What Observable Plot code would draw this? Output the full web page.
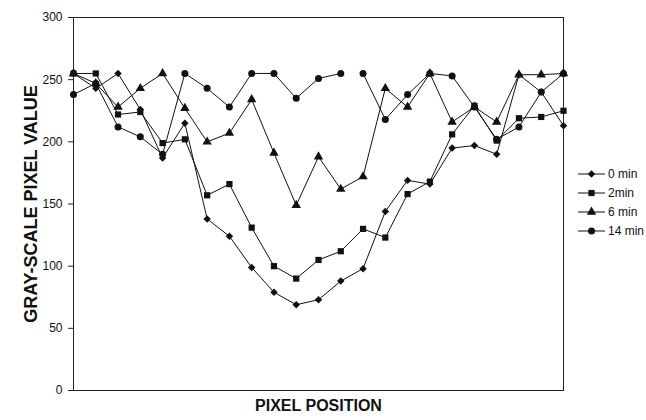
<!DOCTYPE html>
<html>
<head>
<meta charset="utf-8">
<script src="https://cdn.jsdelivr.net/npm/d3@7"></script>
<script src="https://cdn.jsdelivr.net/npm/@observablehq/plot@0.6"></script>
<style>
  html, body { margin: 0; padding: 0; background: #fff; }
  #wrap { position: relative; width: 646px; height: 420px; font-family: Arial, "Liberation Sans", sans-serif; }
  #legend { position: absolute; left: 0; top: 0; }
  .lg-row { position: absolute; display: flex; align-items: center; height: 16px; font-size: 12px; color: #111; white-space: nowrap; }
  .lg-row svg { display: block; }
  .lg-row span { margin-left: 2px; }
</style>
</head>
<body>
<div id="wrap"></div>
<script>
// ---- data ----
const positions = [1, 2, 3, 4, 5, 6, 7, 8, 9, 10, 11, 12, 13, 14, 15, 16, 17, 18, 19, 20, 21, 22, 23];
const seriesNames = ["0 min", "2min", "6 min", "14 min"];
const min0  = [255, 243, 255, 226, 187, 215, 138, 124, 99, 79, 69, 73, 88, 98, 144, 169, 166, 195, 197, 190, 254, 240, 213];
const min2  = [255, 255, 222, 224, 199, 202, 157, 166, 131, 100, 90, 105, 112, 130, 123, 158, 168, 206, 229, 201, 219, 220, 225];
const min6  = [255, 247, 228, 243, 255, 227, 200, 207, 234, 191, 149, 188, 162, 172, 243, 228, 255, 216, 228, 216, 254, 254, 255];
const min14 = [238, 247, 212, 204, 190, 255, 243, 228, 255, 255, 235, 251, 255, 255, 218, 238, 255, 253, 228, 202, 212, 240, 255];
// the 14 min line is not drawn between positions 13 and 14 in the original
const lineGaps = [{ series: "14 min", after: 13 }];
const yTicks = [0, 50, 100, 150, 200, 250, 300];
const xLabel = "PIXEL POSITION";
const yLabel = "GRAY-SCALE PIXEL VALUE";

// ---- symbols ----
const diamondSym = {
  draw(ctx, size) {
    const h = Math.sqrt(size / 2) * 0.85;
    ctx.moveTo(0, -h); ctx.lineTo(h, 0); ctx.lineTo(0, h); ctx.lineTo(-h, 0); ctx.closePath();
  }
};
const symbols = [diamondSym, d3.symbolSquare, d3.symbolTriangle, d3.symbolCircle];

const valuesBySeries = [min0, min2, min6, min14];
const data = seriesNames.flatMap((name, s) =>
  valuesBySeries[s].map((v, i) => {
    const gapCount = lineGaps.filter(g => g.series === name && positions[i] > g.after).length;
    return { pos: positions[i], value: v, series: name, seg: name + "#" + gapCount };
  })
);

const R = 3.5;
const ink = "#111";

const chart = Plot.plot({
  width: 646,
  height: 420,
  marginLeft: 73,
  marginRight: 83,
  marginTop: 17,
  marginBottom: 30,
  style: { fontFamily: 'Arial, "Liberation Sans", sans-serif', fontSize: "12px", background: "white", color: ink },
  x: { domain: [1, 23], axis: null },
  y: { domain: [0, 300] },
  symbol: { domain: seriesNames, range: symbols },
  marks: [
    Plot.frame({ stroke: "#222", strokeWidth: 1 }),
    Plot.axisY({ ticks: yTicks, tickSize: 5, tickPadding: 6, label: null, fontSize: 12, stroke: "#222" }),
    Plot.line(data, { x: "pos", y: "value", z: "seg", stroke: ink, strokeWidth: 1 }),
    Plot.dot(data, { x: "pos", y: "value", symbol: "series", fill: ink, stroke: "none", r: R }),
    Plot.text([yLabel], { frameAnchor: "left", textAnchor: "middle", dx: -42, rotate: -90, fontSize: 18, fontWeight: "bold", fill: ink }),
    Plot.text([xLabel], { frameAnchor: "bottom", dy: 20, fontSize: 16, fontWeight: "bold", fill: ink })
  ]
});

const wrap = document.getElementById("wrap");
wrap.appendChild(chart);

// ---- legend ----
const legend = document.createElement("div");
legend.id = "legend";
wrap.appendChild(legend);
const rowTops = [173.5, 192.5, 211.5, 230.5];
seriesNames.forEach((name, i) => {
  const row = document.createElement("div");
  row.className = "lg-row";
  row.style.left = "578px";
  row.style.top = (rowTops[i] - 8) + "px";
  const svg = d3.create("svg").attr("width", 28).attr("height", 16);
  svg.append("line").attr("x1", 0).attr("x2", 27).attr("y1", 8).attr("y2", 8).attr("stroke", ink).attr("stroke-width", 1);
  svg.append("path")
    .attr("transform", "translate(13.5,8)")
    .attr("d", d3.symbol(symbols[i], Math.PI * R * R)())
    .attr("fill", ink);
  row.appendChild(svg.node());
  const span = document.createElement("span");
  span.textContent = name;
  row.appendChild(span);
  legend.appendChild(row);
});
</script>
</body>
</html>
